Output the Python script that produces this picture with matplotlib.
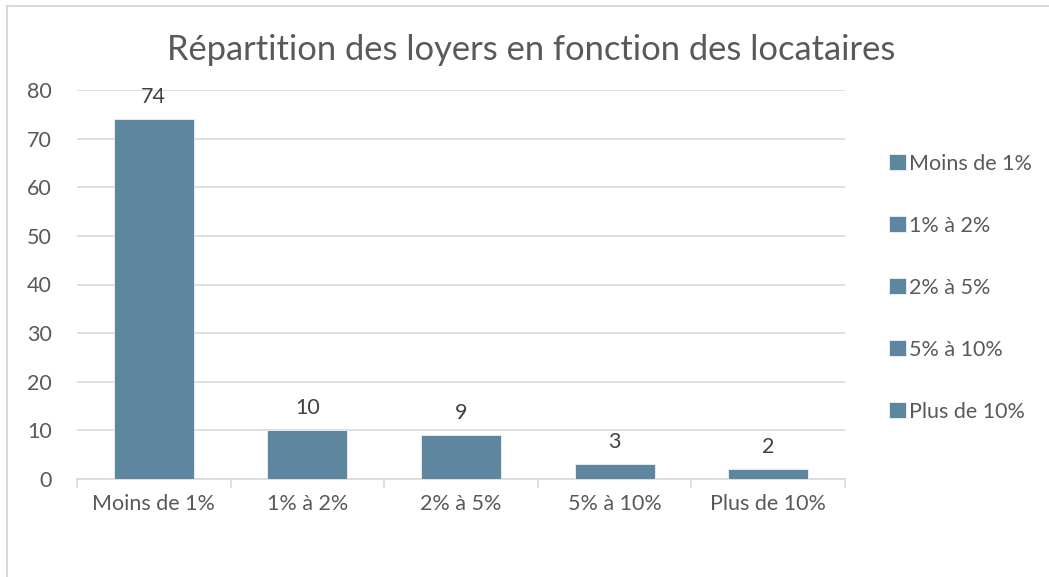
import matplotlib.pyplot as plt
from matplotlib.lines import Line2D
from matplotlib.patches import Rectangle

# Répartition des loyers
categories = ['Moins de 1%', '1% à 2%', '2% à 5%', '5% à 10%', 'Plus de 10%']
values = [74, 10, 9, 3, 2]
yticks = [0, 10, 20, 30, 40, 50, 60, 70, 80]

bar_color = '#5f869f'
text_color = '#595959'
grid_color = '#d9d9d9'

plt.rcParams['font.family'] = ['Lato', 'DejaVu Sans']

fig = plt.figure(figsize=(10.49, 5.77), dpi=100)
ax = fig.add_axes([77 / 1049, 98 / 577, (845 - 77) / 1049, 389 / 577])

x = range(len(categories))
bars = ax.bar(x, values, width=0.52, color=bar_color, edgecolor='#eef2f5', linewidth=0.6, zorder=3)
for b, v in zip(bars, values):
    ax.annotate(str(v), (b.get_x() + b.get_width() / 2, v), xytext=(0, 9),
                textcoords='offset points', ha='center', va='bottom',
                fontsize=15.5, color='#404040')

ax.set_xlim(-0.5, len(categories) - 0.5)
ax.set_ylim(0, 80)
ax.set_yticks(yticks)
ax.set_xticks(list(x))
ax.set_xticklabels(categories)
ax.tick_params(axis='both', labelsize=15.5, colors=text_color, length=0)
ax.tick_params(axis='x', pad=11)
ax.tick_params(axis='y', pad=18)
ax.yaxis.grid(True, color=grid_color, linewidth=1.2, zorder=0)
for s in ['top', 'right', 'left']:
    ax.spines[s].set_visible(False)
ax.spines['bottom'].set_color(grid_color)
ax.spines['bottom'].set_linewidth(1.2)

# small tick marks between categories
for i in range(len(categories) + 1):
    ax.plot([i - 0.5, i - 0.5], [0, -1.6], color=grid_color, linewidth=1.2, clip_on=False)

fig.suptitle('Répartition des loyers en fonction des locataires', x=531 / 1049, y=1 - 50 / 577,
             va='center', fontsize=24.8, color=text_color)

# legend
handles = [Rectangle((0, 0), 1, 1, facecolor=bar_color, edgecolor='#eef2f5', linewidth=0.6)
           for _ in categories]
fig.legend(handles, categories, loc='upper left', bbox_to_anchor=(880 / 1049, 1 - 145 / 577),
           frameon=False, fontsize=15.5, labelcolor=text_color, handlelength=0.8, handleheight=0.8,
           handletextpad=0.15, labelspacing=1.95, borderaxespad=0)

# chart frame (top and left edges)
fig.add_artist(Line2D([7 / 1049, 7 / 1049], [0, 1 - 6 / 577], color='#d9d9d9', linewidth=1.5))
fig.add_artist(Line2D([7 / 1049, 1], [1 - 6 / 577, 1 - 6 / 577], color='#d9d9d9', linewidth=1.5))

fig.savefig('out.png', dpi=100)
